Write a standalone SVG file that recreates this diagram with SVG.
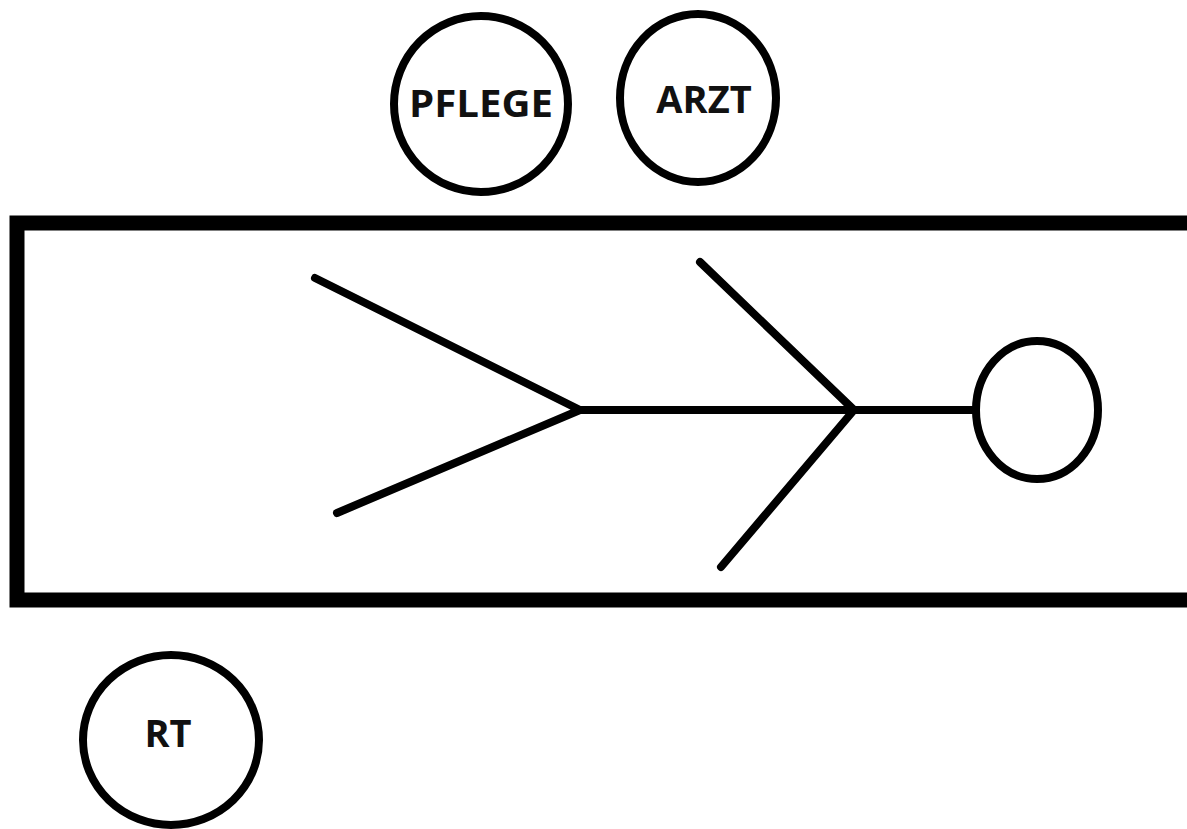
<svg xmlns="http://www.w3.org/2000/svg" width="1187" height="829" viewBox="0 0 1187 829">
  <style>
    .ring { fill: none; stroke: #000; stroke-width: 8; }
    .label { font-family: "Open Sans", "Noto Sans", sans-serif; font-weight: bold; font-size: 38px; fill: #111; text-anchor: middle; }
    .frame { fill: none; stroke: #000; stroke-width: 15; }
    .bone { fill: none; stroke: #000; stroke-width: 8; stroke-linecap: round; stroke-linejoin: round; }
  </style>
  <rect width="1187" height="829" fill="#fff"/>

  <!-- bed frame, open to the right -->
  <g id="bed">
    <path class="frame" d="M1200 223 H17 V600 H1200"/>
  </g>

  <!-- patient figure -->
  <g id="connectors">
    <path class="bone" d="M315 278 L580 410 L337 513"/>
    <path class="bone" d="M580 410 H975"/>
    <path class="bone" d="M700 262 L854 410 L721 567"/>
  </g>
  <g id="head">
    <ellipse class="ring" cx="1037" cy="410" rx="61" ry="69"/>
  </g>

  <g id="pflege">
    <ellipse class="ring" cx="481" cy="104" rx="87" ry="88"/>
    <text class="label" x="481" y="117" textLength="144" lengthAdjust="spacingAndGlyphs">PFLEGE</text>
  </g>
  <g id="arzt">
    <ellipse class="ring" cx="698" cy="98" rx="78" ry="84"/>
    <text class="label" x="704" y="113">ARZT</text>
  </g>
  <g id="rt">
    <ellipse class="ring" cx="171" cy="740" rx="88" ry="85"/>
    <text class="label" x="168" y="747">RT</text>
  </g>
</svg>
